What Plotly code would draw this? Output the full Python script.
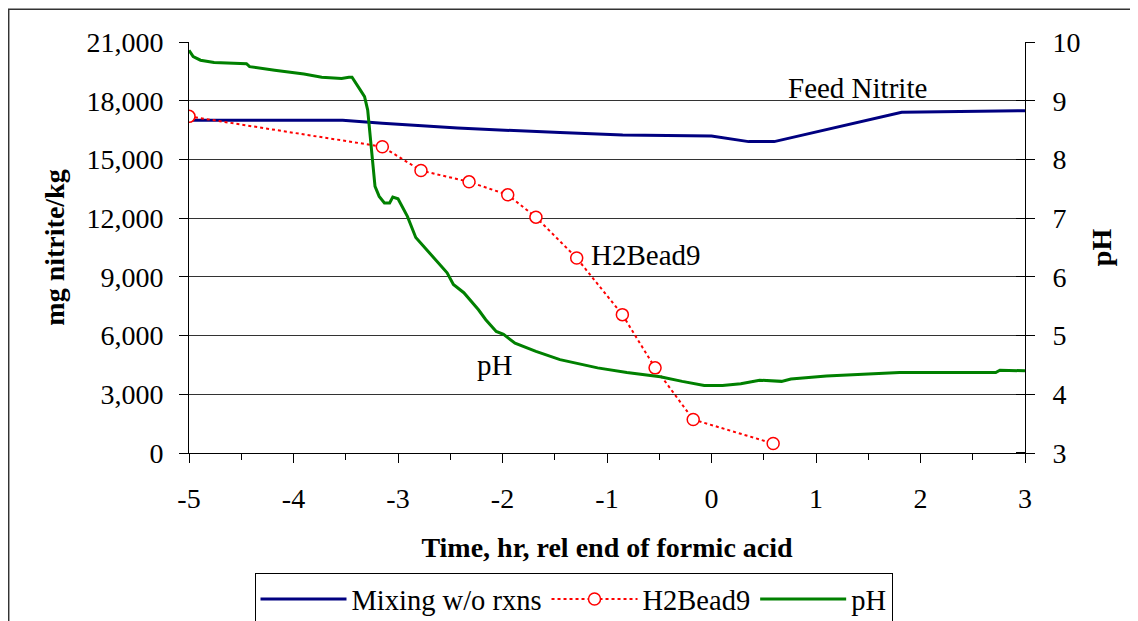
import plotly.graph_objects as go

# ---- data ----
mix_x = [-5.0, -3.53, -3.15, -2.43, -1.45, -0.85, 0.0, 0.355, 0.60, 1.82, 3.0]
mix_y = [17000, 17000, 16850, 16600, 16370, 16250, 16200, 15910, 15910, 17410, 17490]

bead_x = [-5.0, -3.15, -2.78, -2.32, -1.95, -1.68, -1.29, -0.853, -0.54, -0.175, 0.59]
bead_y = [17200, 15650, 14430, 13855, 13190, 12050, 9960, 7070, 4350, 1710, 485]

ph_x = [-5.0, -4.96, -4.89, -4.76, -4.45, -4.42, -4.18, -3.90, -3.73, -3.54, -3.47, -3.44,
        -3.36, -3.32, -3.29, -3.26, -3.24, -3.22, -3.18, -3.13, -3.08, -3.05, -3.00, -2.91,
        -2.83, -2.70, -2.53, -2.47, -2.37, -2.23, -2.16, -2.06, -1.99, -1.88, -1.68, -1.45,
        -1.09, -0.81, -0.49, -0.28, -0.07, 0.105, 0.28, 0.46, 0.67, 0.76, 1.10, 1.45, 1.80,
        2.72, 2.76, 3.0]
ph_y = [9.86, 9.75, 9.69, 9.65, 9.63, 9.58, 9.52, 9.455, 9.40, 9.38, 9.40, 9.40,
        9.18, 9.07, 8.84, 8.33, 7.88, 7.54, 7.37, 7.26, 7.26, 7.36, 7.33, 7.03,
        6.67, 6.41, 6.07, 5.87, 5.73, 5.44, 5.27, 5.07, 5.02, 4.87, 4.73, 4.59,
        4.45, 4.37, 4.30, 4.22, 4.15, 4.15, 4.18, 4.24, 4.22, 4.26, 4.31, 4.34, 4.37,
        4.37, 4.41, 4.40]

x_ticks = [-5, -4, -3, -2, -1, 0, 1, 2, 3]
x_labels = ["-5", "-4", "-3", "-2", "-1", "0", "1", "2", "3"]
left_ticks = [0, 3000, 6000, 9000, 12000, 15000, 18000, 21000]
left_labels = ["0", "3,000", "6,000", "9,000", "12,000", "15,000", "18,000", "21,000"]
right_ticks = [3, 4, 5, 6, 7, 8, 9, 10]

FONT = "Liberation Serif"

fig = go.Figure()
fig.add_trace(go.Scatter(x=mix_x, y=mix_y, mode="lines", name="Mixing w/o rxns",
                         line=dict(color="#000080", width=3)))
fig.add_trace(go.Scatter(x=bead_x, y=bead_y, mode="lines+markers", name="H2Bead9",
                         line=dict(color="#FF0000", width=2, dash="dot"),
                         marker=dict(symbol="circle", size=12, color="white",
                                     line=dict(color="#FF0000", width=1.5))))
fig.add_trace(go.Scatter(x=ph_x, y=ph_y, mode="lines", name="pH", yaxis="y2",
                         line=dict(color="#008000", width=3)))

# page has an 8px body margin; figure coords = page coords - 8
L, R, T, B = 181, 113, 34, 168
W, H = 1130, 613
pw = W - L - R
ph = H - T - B

def px2paper(px, py):
    # px, py in page pixels
    fx, fy = px - 8, py - 8
    return (fx - L) / pw, (H - B - fy) / ph

# outer chart border
x0, y0 = px2paper(8.7, 9.2)
x1, y1 = px2paper(1150, 640)
fig.add_shape(type="rect", xref="paper", yref="paper", x0=x0, y0=y1, x1=x1, y1=y0,
              line=dict(color="#333333", width=1.5), layer="below")

fig.add_annotation(x=1.395, y=18626, xref="x", yref="y", text="Feed Nitrite",
                   showarrow=False, font=dict(family=FONT, size=29, color="black"))
fig.add_annotation(x=-0.623, y=10130, xref="x", yref="y", text="H2Bead9",
                   showarrow=False, font=dict(family=FONT, size=29, color="black"))
fig.add_annotation(x=-2.075, y=4491, xref="x", yref="y", text="pH",
                   showarrow=False, font=dict(family=FONT, size=29, color="black"))

lx, ly = px2paper(573.5, 573)

fig.update_layout(
    width=W, height=H,
    margin=dict(l=L, r=R, t=T, b=B, autoexpand=False),
    paper_bgcolor="white", plot_bgcolor="white",
    font=dict(family=FONT, size=28, color="black"),
    showlegend=True,
    legend=dict(orientation="h", x=lx, y=ly, xanchor="center", yanchor="top",
                bordercolor="black", borderwidth=1, bgcolor="white",
                font=dict(family=FONT, size=28.5, color="black"),
                itemwidth=86, tracegroupgap=0),
    xaxis=dict(range=[-5, 3], tickvals=x_ticks, ticktext=x_labels, ticks="outside",
               ticklen=9, tickwidth=1, tickcolor="black", showline=True,
               linecolor="black", linewidth=1, showgrid=False, zeroline=False,
               ticklabelstandoff=11,
               minor=dict(dtick=0.5, ticks="outside", ticklen=6, tickcolor="black",
                          showgrid=False),
               title=dict(text="<b>Time, hr, rel end of formic acid</b>", standoff=24,
                          font=dict(family=FONT, size=28, color="black"))),
    yaxis=dict(range=[0, 21000], tickvals=left_ticks, ticktext=left_labels,
               ticks="outside", ticklen=9, tickcolor="black", showline=True,
               linecolor="black", linewidth=1, showgrid=True, gridcolor="#333333",
               gridwidth=1, zeroline=False, ticklabelstandoff=10,
               title=dict(text="<b>mg nitrite/kg</b>", standoff=13,
                          font=dict(family=FONT, size=28, color="black"))),
    yaxis2=dict(range=[3, 10], tickvals=right_ticks, overlaying="y", side="right",
                ticks="outside", ticklen=9, tickcolor="black", showline=True,
                linecolor="black", linewidth=1, showgrid=False, zeroline=False,
                ticklabelstandoff=12,
                minor=dict(tickvals=[v + 0.002 for v in right_ticks], ticks="inside",
                           ticklen=9, tickcolor="black", showgrid=False),
                title=dict(text="<b>pH</b>", standoff=11,
                           font=dict(family=FONT, size=28, color="black"))),
)

fig.write_html("out.html")
